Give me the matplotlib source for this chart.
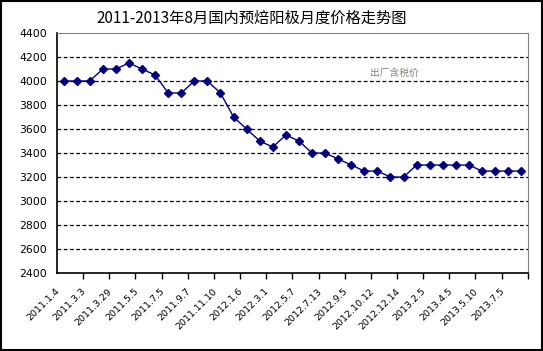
import matplotlib.pyplot as plt
import matplotlib.transforms as mtransforms
from matplotlib.patches import Rectangle

plt.rcParams['font.family'] = ['Noto Sans CJK SC', 'DejaVu Sans']

# 价格数据（元/吨）
prices = [4000, 4000, 4000, 4100, 4100, 4150, 4100, 4050, 3900, 3900,
          4000, 4000, 3900, 3700, 3600, 3500, 3450, 3550, 3500, 3400,
          3400, 3350, 3300, 3250, 3250, 3200, 3200, 3300, 3300, 3300,
          3300, 3300, 3250, 3250, 3250, 3250]
date_labels = ['2011.1.4', '2011.3.3', '2011.3.29', '2011.5.5', '2011.7.5',
               '2011.9.7', '2011.11.10', '2012.1.6', '2012.3.1', '2012.5.7',
               '2012.7.13', '2012.9.5', '2012.10.12', '2012.12.14', '2013.2.5',
               '2013.4.5', '2013.5.10', '2013.7.5']
y_ticks = list(range(2400, 4401, 200))

fig = plt.figure(figsize=(5.43, 3.51), dpi=100)
ax = fig.add_axes([0.105, 0.222, 0.867, 0.684])

x = list(range(len(prices)))
ax.plot(x, prices, color='#000080', lw=1, marker='D', markersize=4.5)

ax.set_xlim(-0.5, len(prices) - 0.5)
ax.set_ylim(2400, 4400)
ax.set_yticks(y_ticks)
ax.set_yticklabels([str(v) for v in y_ticks], fontsize=7.8, family='DejaVu Sans')
ax.tick_params(axis='y', length=0, pad=7)

# 标签每隔两个点
ax.set_xticks(x[::2])
ax.set_xticklabels(date_labels, rotation=45, ha='right', va='center',
                   rotation_mode='anchor', fontsize=6.8, family='DejaVu Sans')
ax.tick_params(axis='x', which='major', length=0, pad=12)
shift = mtransforms.ScaledTranslation(-0.05, 0, fig.dpi_scale_trans)
for lbl in ax.get_xticklabels():
    lbl.set_transform(lbl.get_transform() + shift)
ax.set_xticks([i + 1.5 for i in range(0, len(prices) - 1, 2)], minor=True)
ax.tick_params(axis='x', which='minor', length=4, width=1)

for v in y_ticks[1:-1]:
    ax.axhline(v, color='black', lw=0.9, ls=(0, (3, 2)), zorder=0)

ax.spines['left'].set_linewidth(1.2)
ax.spines['bottom'].set_linewidth(1.2)
ax.spines['top'].set_color('#808080')
ax.spines['right'].set_color('#808080')

ax.text(25.3, 4070, '出厂含税价', fontsize=7, color='#8a8070', ha='center', va='center')

fig.text(0.464, 0.948, '2011-2013年8月国内预焙阳极月度价格走势图', ha='center', va='center',
         fontsize=11)

fig.add_artist(Rectangle((0.001, 0.002), 0.997, 0.996, transform=fig.transFigure,
                         fill=False, lw=1.5, edgecolor='black'))

fig.savefig('out.png', dpi=100)
